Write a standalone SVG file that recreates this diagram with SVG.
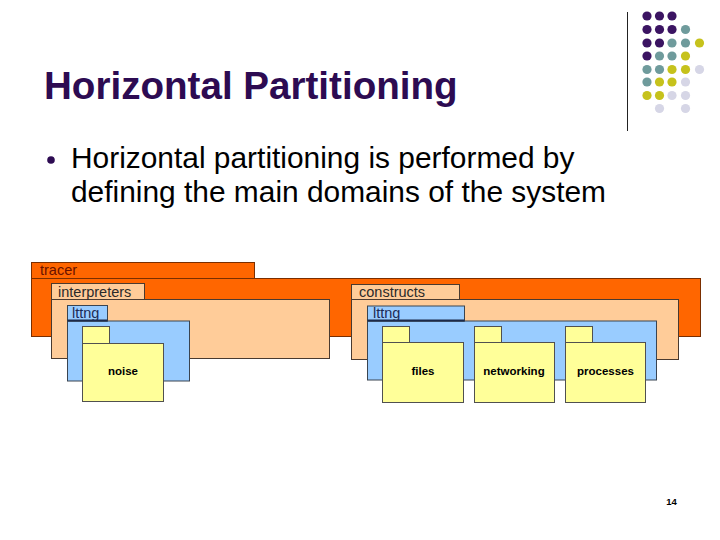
<svg xmlns="http://www.w3.org/2000/svg" width="720" height="540" viewBox="0 0 720 540">
<style>
.title{font-family:"Liberation Sans",Arial,sans-serif;font-weight:bold;font-size:38.6px;fill:#2d0b52}
.body{font-family:"Liberation Sans",Arial,sans-serif;font-size:29.9px;fill:#000}
.lbl{font-family:"Liberation Sans",Arial,sans-serif;font-size:14.5px}
.fl{font-family:"Liberation Sans",Arial,sans-serif;font-size:11.5px;font-weight:bold;fill:#000;text-anchor:middle}
.or{fill:#ff6600;stroke:#7a2e00;stroke-width:1}
.pe{fill:#ffcc99;stroke:#4a3a30;stroke-width:1}
.bl{fill:#99ccff;stroke:#3a4450;stroke-width:1}
.ye{fill:#ffff99;stroke:#505050;stroke-width:1}
.p{fill:#3b1462}.t{fill:#6f9b9c}.y{fill:#c6c21c}.l{fill:#d6d6e6}
</style>
<rect width="720" height="540" fill="#fff"/>
<g id="decor">
<line x1="627.5" y1="12" x2="627.5" y2="131" stroke="#222" stroke-width="1"/>
<circle class="p" cx="647" cy="16" r="4.6"/><circle class="p" cx="659.5" cy="16" r="4.6"/><circle class="p" cx="672" cy="16" r="4.6"/>
<circle class="p" cx="647" cy="29.5" r="4.6"/><circle class="p" cx="659.5" cy="29.5" r="4.6"/><circle class="p" cx="672" cy="29.5" r="4.6"/><circle class="t" cx="685.5" cy="29.5" r="4.6"/>
<circle class="p" cx="647" cy="43" r="4.6"/><circle class="p" cx="659.5" cy="43" r="4.6"/><circle class="t" cx="672" cy="43" r="4.6"/><circle class="t" cx="685.5" cy="43" r="4.6"/><circle class="y" cx="699.5" cy="43" r="4.6"/>
<circle class="p" cx="647" cy="56" r="4.6"/><circle class="t" cx="659.5" cy="56" r="4.6"/><circle class="t" cx="672" cy="56" r="4.6"/><circle class="y" cx="685.5" cy="56" r="4.6"/>
<circle class="t" cx="647" cy="69.5" r="4.6"/><circle class="t" cx="659.5" cy="69.5" r="4.6"/><circle class="y" cx="672" cy="69.5" r="4.6"/><circle class="y" cx="685.5" cy="69.5" r="4.6"/><circle class="l" cx="699.5" cy="69.5" r="4.6"/>
<circle class="t" cx="647" cy="82" r="4.6"/><circle class="y" cx="659.5" cy="82" r="4.6"/><circle class="y" cx="672" cy="82" r="4.6"/><circle class="l" cx="685.5" cy="82" r="4.6"/>
<circle class="y" cx="647" cy="95.5" r="4.6"/><circle class="y" cx="659.5" cy="95.5" r="4.6"/><circle class="l" cx="672" cy="95.5" r="4.6"/><circle class="l" cx="685.5" cy="95.5" r="4.6"/>
<circle class="l" cx="659.5" cy="108.5" r="4.6"/><circle class="l" cx="685.5" cy="108.5" r="4.6"/>
</g>
<text class="title" x="44" y="99">Horizontal Partitioning</text>
<circle cx="51" cy="160" r="3.8" fill="#2d0b52"/>
<text class="body" x="71" y="168">Horizontal partitioning is performed by</text>
<text class="body" x="71" y="202">defining the main domains of the system</text>
<g id="tracer">
<rect class="or" x="31.5" y="278.5" width="669" height="58"/>
<rect class="or" x="31.5" y="262.5" width="223" height="16"/>
<text class="lbl" x="40" y="275" fill="#6a1200">tracer</text>
</g>
<g id="interpreters">
<rect class="pe" x="51.5" y="299.5" width="278" height="59"/>
<rect class="pe" x="51.5" y="283.5" width="93" height="16"/>
<text class="lbl" x="58" y="297" fill="#2a2a2a">interpreters</text>
</g>
<g id="lttng-left">
<rect class="bl" x="67.5" y="321" width="122" height="60"/>
<rect class="bl" x="67.5" y="305.5" width="40" height="15.5"/>
<line x1="67.5" y1="320.5" x2="107.5" y2="320.5" stroke="#1c2a4a" stroke-width="2"/>
<text class="lbl" x="72" y="318" fill="#1c2a55">lttng</text>
</g>
<g id="noise">
<rect class="ye" x="82.5" y="326.5" width="27" height="17"/>
<rect class="ye" x="82.5" y="343.5" width="81" height="58"/>
<text class="fl" x="123" y="375">noise</text>
</g>
<g id="constructs">
<rect class="pe" x="351.5" y="299.5" width="327" height="60"/>
<rect class="pe" x="351.5" y="284.5" width="108" height="15"/>
<text class="lbl" x="359" y="297" fill="#2a2a2a">constructs</text>
</g>
<g id="lttng-right">
<rect class="bl" x="367.5" y="321" width="289" height="59"/>
<rect class="bl" x="367.5" y="306" width="97" height="15"/>
<line x1="367.5" y1="320.5" x2="464.5" y2="320.5" stroke="#1c2a4a" stroke-width="2"/>
<text class="lbl" x="373" y="318" fill="#1c2a55">lttng</text>
</g>
<g id="files">
<rect class="ye" x="382.5" y="326.5" width="27" height="16"/>
<rect class="ye" x="382.5" y="342.5" width="81" height="60"/>
<text class="fl" x="423" y="375">files</text>
</g>
<g id="networking">
<rect class="ye" x="474.5" y="326.5" width="27" height="16"/>
<rect class="ye" x="474.5" y="342.5" width="80" height="60"/>
<text class="fl" x="514" y="375">networking</text>
</g>
<g id="processes">
<rect class="ye" x="565.5" y="326.5" width="27" height="16"/>
<rect class="ye" x="565.5" y="342.5" width="80" height="60"/>
<text class="fl" x="605.5" y="375">processes</text>
</g>
<g id="connectors"/>
<text x="671.5" y="505" font-family="Liberation Sans,Arial,sans-serif" font-size="9.5" font-weight="bold" text-anchor="middle" fill="#000">14</text>
</svg>
